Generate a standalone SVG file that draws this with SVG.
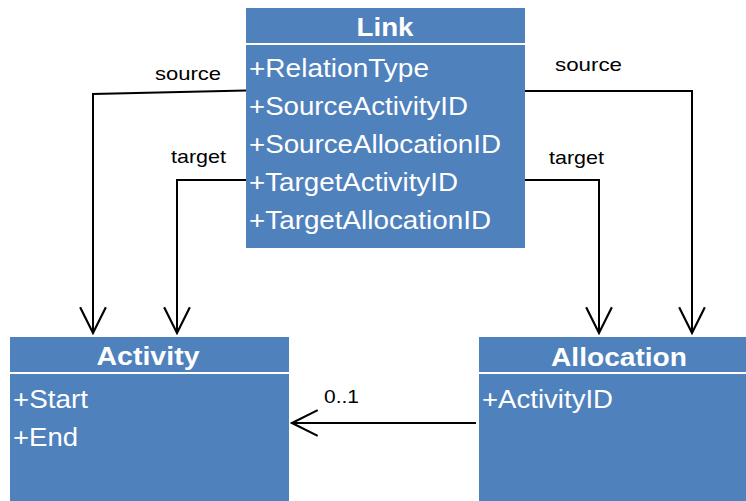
<svg xmlns="http://www.w3.org/2000/svg" width="746" height="501" viewBox="0 0 746 501">
<style>
.box{fill:#4F81BD;}
.sep{stroke:#FFFFFF;stroke-width:2;}
.hdr{font-family:"Liberation Sans",Arial,sans-serif;font-weight:bold;font-size:25px;fill:#FFFFFF;text-anchor:middle;}
.attr{font-family:"Liberation Sans",Arial,sans-serif;font-size:25px;fill:#FFFFFF;}
.lbl{font-family:"Liberation Sans",Arial,sans-serif;font-size:19px;fill:#000000;}
.edge{fill:none;stroke:#000000;stroke-width:2;}
</style>
<defs>
<marker id="open" markerWidth="30" markerHeight="30" viewBox="-26 -14 28 28" refX="0" refY="0" orient="auto" markerUnits="userSpaceOnUse">
<path d="M-24,-12 L0,0 L-24,12" fill="none" stroke="#000000" stroke-width="2"/>
</marker>
</defs>
<rect width="746" height="501" fill="#FFFFFF"/>
<g id="connectors">
<polyline class="edge" points="246,90.5 93,94 93,333" marker-end="url(#open)"/>
<polyline class="edge" points="246,180 177,180 177,333" marker-end="url(#open)"/>
<polyline class="edge" points="525,91 692,91 692,333" marker-end="url(#open)"/>
<polyline class="edge" points="525,180 599,180 599,333" marker-end="url(#open)"/>
<polyline class="edge" points="476,423 292,423" marker-end="url(#open)"/>
<text class="lbl" x="155" y="80" textLength="66" lengthAdjust="spacingAndGlyphs">source</text>
<text class="lbl" x="171" y="163" textLength="55" lengthAdjust="spacingAndGlyphs">target</text>
<text class="lbl" x="555" y="71" textLength="67" lengthAdjust="spacingAndGlyphs">source</text>
<text class="lbl" x="549" y="164" textLength="55" lengthAdjust="spacingAndGlyphs">target</text>
<text class="lbl" x="324" y="403" textLength="35" lengthAdjust="spacingAndGlyphs">0..1</text>
</g>
<g id="link">
<rect class="box" x="246" y="8" width="279" height="240"/>
<line class="sep" x1="246" y1="44" x2="525" y2="44"/>
<text class="hdr" x="385" y="36" textLength="57" lengthAdjust="spacingAndGlyphs">Link</text>
<text class="attr" x="249" y="77" textLength="180" lengthAdjust="spacingAndGlyphs">+RelationType</text>
<text class="attr" x="249" y="115" textLength="219" lengthAdjust="spacingAndGlyphs">+SourceActivityID</text>
<text class="attr" x="249" y="153" textLength="252" lengthAdjust="spacingAndGlyphs">+SourceAllocationID</text>
<text class="attr" x="249" y="191" textLength="209" lengthAdjust="spacingAndGlyphs">+TargetActivityID</text>
<text class="attr" x="249" y="229" textLength="242" lengthAdjust="spacingAndGlyphs">+TargetAllocationID</text>
</g>
<g id="activity">
<rect class="box" x="10" y="337" width="279" height="170"/>
<line class="sep" x1="10" y1="373" x2="289" y2="373"/>
<text class="hdr" x="148" y="365" textLength="103" lengthAdjust="spacingAndGlyphs">Activity</text>
<text class="attr" x="13" y="408" textLength="75" lengthAdjust="spacingAndGlyphs">+Start</text>
<text class="attr" x="13" y="446" textLength="65" lengthAdjust="spacingAndGlyphs">+End</text>
</g>
<g id="allocation">
<rect class="box" x="479" y="337" width="270" height="170"/>
<line class="sep" x1="479" y1="373" x2="746" y2="373"/>
<text class="hdr" x="619" y="366" textLength="136" lengthAdjust="spacingAndGlyphs">Allocation</text>
<text class="attr" x="482" y="408" textLength="131" lengthAdjust="spacingAndGlyphs">+ActivityID</text>
</g>
</svg>
